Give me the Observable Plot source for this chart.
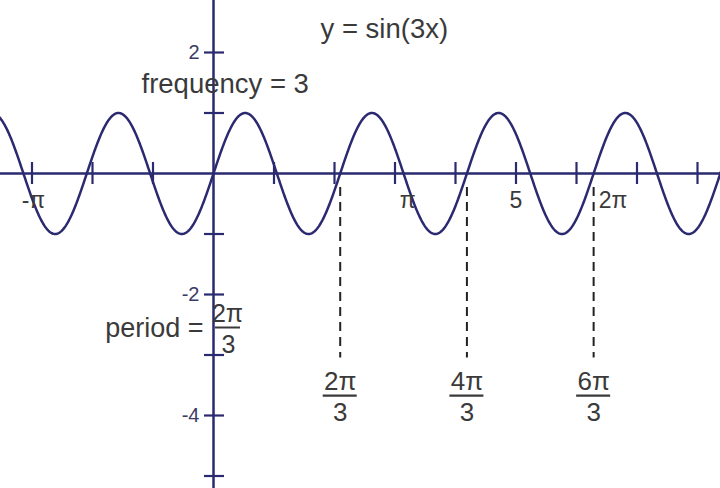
<!DOCTYPE html>
<html><head><meta charset="utf-8">
<script src="https://cdn.jsdelivr.net/npm/d3@7"></script>
<script src="https://cdn.jsdelivr.net/npm/@observablehq/plot@0.6"></script>
<style>body{margin:0;background:#fff} svg{display:block}</style>
</head><body><div id="chart"></div>
<script>
const frequency = 3;
const xTicks = [-3, -2, -1, 1, 2, 3, 4, 5, 6, 7, 8];
const yTicks = [2, 1, -1, -2, -3, -4, -5];
const yTickLabels = [{v: 2, t: "2"}, {v: -2, t: "-2"}, {v: -4, t: "-4"}];
const xTickLabels = [
  {v: -Math.PI, t: "-π", anchor: "middle", dx: 10},
  {v: Math.PI, t: "π", anchor: "middle", dx: 4},
  {v: 5, t: "5", anchor: "middle", dx: 0},
  {v: 2 * Math.PI, t: "2π", anchor: "start", dx: 5}
];
const periodMarks = [
  {v: 2 * Math.PI / 3, n: "2π", d: "3"},
  {v: 4 * Math.PI / 3, n: "4π", d: "3"},
  {v: 6 * Math.PI / 3, n: "6π", d: "3"}
];
const curveX = d3.range(-3.6, 8.45, 0.01);
const curve = curveX.map(x => ({x, y: Math.sin(frequency * x)}));

const k = 60.5, ox = 213, oy = 173, W = 720, H = 488;
const navy = "#2b2a70", ink = "#3a3a3a";
const dashBottom = -3.05, fracY = -3.67;

const xLabelMarks = xTickLabels.map(l =>
  Plot.text([l], {x: "v", y: 0, text: "t", textAnchor: l.anchor, dx: l.dx, dy: 27, fontSize: 23, fill: ink})
);

const chart = Plot.plot({
  width: W, height: H,
  margin: 0,
  x: {domain: [-ox / k, (W - ox) / k], axis: null},
  y: {domain: [-(H - oy) / k, oy / k], axis: null},
  style: {fontFamily: "'Liberation Sans', Arial, sans-serif", background: "#fff"},
  marks: [
    Plot.ruleY([0], {stroke: navy, strokeWidth: 2.5}),
    Plot.ruleX([0], {stroke: navy, strokeWidth: 2.5}),
    Plot.ruleX(xTicks, {x: d => d, y1: 0, y2: 0, insetTop: -11, insetBottom: -11, stroke: navy, strokeWidth: 2.2}),
    Plot.ruleY(yTicks, {y: d => d, x1: 0, x2: 0, insetLeft: -9, insetRight: -11, stroke: navy, strokeWidth: 2.2}),
    Plot.ruleX(periodMarks, {x: "v", y1: 0, y2: dashBottom, insetTop: 14, stroke: "#222", strokeWidth: 2, strokeDasharray: "9,6"}),
    Plot.line(curve, {x: "x", y: "y", stroke: navy, strokeWidth: 2.5}),
    Plot.text(yTickLabels, {x: 0, y: "v", text: "t", textAnchor: "end", dx: -14, fontSize: 20, fill: "#3b3b66"}),
    ...xLabelMarks,
    Plot.text(periodMarks, {x: "v", y: fracY, text: "n", dy: -14, fontSize: 26, fill: ink}),
    Plot.ruleY(periodMarks, {y: fracY, x1: "v", x2: "v", insetLeft: -17, insetRight: -17, stroke: ink, strokeWidth: 2.2}),
    Plot.text(periodMarks, {x: "v", y: fracY, text: "d", dy: 17, fontSize: 26, fill: ink}),
    Plot.text(["period ="], {x: 0, y: 0, text: d => d, textAnchor: "end", dx: -10, dy: 155, fontSize: 27, fill: ink}),
    Plot.text([periodMarks[0]], {x: 0, y: 0, text: "n", dx: 14, dy: 140, fontSize: 25, fill: ink}),
    Plot.ruleY([0], {y: 0, x1: 0, x2: 0, dy: 154, insetLeft: 2, insetRight: -27, stroke: ink, strokeWidth: 2}),
    Plot.text([periodMarks[0]], {x: 0, y: 0, text: "d", dx: 15, dy: 171, fontSize: 25, fill: ink}),
    Plot.text(["y = sin(3x)"], {frameAnchor: "top-left", text: d => d, textAnchor: "start", dx: 320, dy: 18, fontSize: 27.5, fill: ink}),
    Plot.text(["frequency = 3"], {frameAnchor: "top-left", text: d => d, textAnchor: "start", dx: 141, dy: 73, fontSize: 27.5, fill: ink})
  ]
});
document.getElementById("chart").append(chart);
</script>
</body></html>
